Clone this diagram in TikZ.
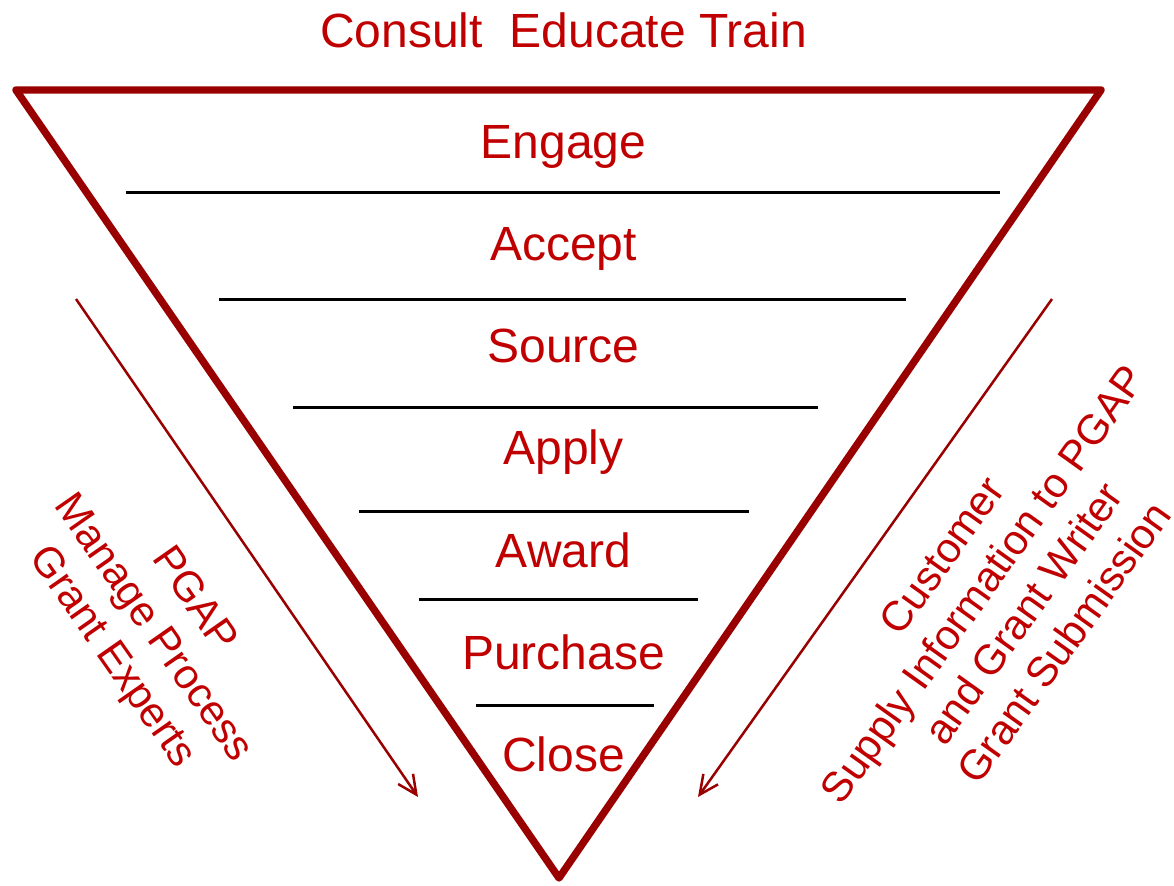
\documentclass[tikz,border=0pt]{standalone}
\usepackage{fontspec}
\setmainfont{Liberation Sans}
\usetikzlibrary{arrows.meta, positioning}
\definecolor{funnelred}{HTML}{990000}
\definecolor{labelred}{HTML}{C00000}

\begin{document}
\begin{tikzpicture}[
    x=0.5pt, y=-0.5pt,
    stage/.style={text=labelred, font=\fontsize{24pt}{26pt}\selectfont, anchor=base, inner sep=0pt},
    side/.style={text=labelred, font=\fontsize{21pt}{25pt}\selectfont, align=center, inner sep=0pt},
    divider/.style={black, line width=1.5pt},
    flow/.style={funnelred, line width=1.25pt, -{Straight Barb[length=9.5pt, width=9pt]}}
  ]
  \useasboundingbox (0,0) rectangle (1174,885);

  % funnel
  \draw[funnelred, line width=3.7pt, line join=round] (16,90) -- (1101,90) -- (559,878) -- cycle;

  \node[stage] (title) at (563.5,47) {Consult\ \ Educate Train};

  \foreach \name [count=\k from 0] in {Engage, Accept, Source, Apply, Award, Purchase, Close}
    \node[stage] (st-\k) at (563.5,{158+102.3*\k}) {\name};

  \foreach \y/\a/\b in {192/126/1000, 299/219/906, 407/293/818, 511/359/749, 599/419/698, 705/476/654}
    \draw[divider] (\a,\y) -- (\b,\y);

  % side arrows
  \coordinate (pgap-top) at (76,299);
  \coordinate (pgap-tip) at (418,797);
  \coordinate (cust-top) at (1052,299);
  \coordinate (cust-tip) at (698,797);
  \draw[flow] (pgap-top) -- (pgap-tip);
  \draw[flow] (cust-top) -- (cust-tip);

  \node[side, rotate=-55] (pgap) at (152,629) {PGAP\\Manage Process\\Grant Experts};
  \node[side, rotate=54.5] (cust) at (1003,599) {Customer\\Supply Information to PGAP\\and Grant Writer\\Grant Submission};

\end{tikzpicture}
\end{document}
